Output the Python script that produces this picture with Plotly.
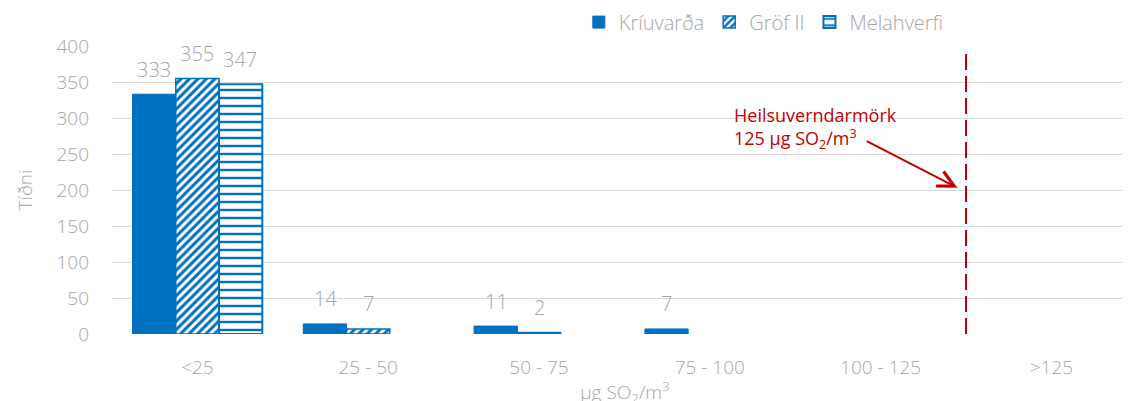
import plotly.graph_objects as go

categories = ["<25", "25 - 50", "50 - 75", "75 - 100", "100 - 125", ">125"]
kriuvarda = [333, 14, 11, 7, 0, 0]
grof = [355, 7, 2, 0, 0, 0]
melahverfi = [347, 0, 0, 0, 0, 0]
series_names = ["Kríuvarða", "Gröf II", "Melahverfi"]
y_ticks = [0, 50, 100, 150, 200, 250, 300, 350, 400]
limit_position = 4.5  # boundary between "100 - 125" and ">125"

BLUE = "#0070C0"
GRAY = "#A6A6A6"
RED = "#C00000"
FONT = "Open Sans"
FS = 19


def nz(vals):
    return [v if v else None for v in vals]


fig = go.Figure()
fig.add_trace(go.Bar(
    x=categories, y=nz(kriuvarda), name=series_names[0],
    marker=dict(color=BLUE, line=dict(color=BLUE, width=1)),
))
fig.add_trace(go.Bar(
    x=categories, y=nz(grof), name=series_names[1],
    marker=dict(color="white", line=dict(color=BLUE, width=1.5),
                pattern=dict(shape="/", fgcolor=BLUE, bgcolor="white",
                             size=6, solidity=0.5, fillmode="replace")),
))
fig.add_trace(go.Bar(
    x=categories, y=nz(melahverfi), name=series_names[2],
    marker=dict(color="white", line=dict(color=BLUE, width=2),
                pattern=dict(shape="-", fgcolor=BLUE, bgcolor="white",
                             size=8, solidity=0.3, fillmode="replace")),
))

# data labels
shifts = [-43, 0, 43]
for vals, xs in zip([kriuvarda, grof, melahverfi], shifts):
    for c, v in zip(categories, vals):
        if v == 0:
            continue
        fig.add_annotation(x=c, y=v, text=str(v), showarrow=False,
                           xshift=xs, yshift=25, yanchor="middle",
                           font=dict(family=FONT, size=FS + 1, color=GRAY, weight=300))

# health limit line
fig.add_shape(type="line", xref="x", yref="y", x0=limit_position, x1=limit_position,
              y0=0, y1=390, line=dict(color=RED, width=2, dash="16px,6px"))
fig.add_annotation(x=3.13, y=323, xref="x", yref="y", xanchor="left", yanchor="top",
                   align="left", showarrow=False,
                   text="Heilsuverndarmörk<br>125 µg SO<sub>2</sub>/m<sup>3</sup>",
                   font=dict(family=FONT, size=18, color=RED))
fig.add_annotation(x=4.45, y=203, ax=3.91, ay=269, xref="x", yref="y",
                   axref="x", ayref="y", text="", showarrow=True,
                   arrowhead=5, arrowsize=1.6, arrowwidth=2, arrowcolor=RED)

fig.update_layout(
    width=1130, height=401,
    margin=dict(l=104, r=0, t=38, b=75, autoexpand=False),
    plot_bgcolor="white", paper_bgcolor="white",
    barmode="group", bargap=0.24, bargroupgap=0,
    font=dict(family=FONT, size=FS, color=GRAY),
    legend=dict(orientation="h", x=0.455, xanchor="left", y=1.083, yanchor="middle",
                font=dict(family=FONT, size=20, color=GRAY, weight=300),
                bgcolor="rgba(0,0,0,0)", itemwidth=30, traceorder="normal"),
    showlegend=True,
)
fig.update_xaxes(range=[-0.5, 5.507], showgrid=False, showline=False, zeroline=False,
                 ticks="", ticklabelstandoff=20, automargin=False,
                 tickfont=dict(family=FONT, size=FS, color=GRAY, weight=300),
                 title=dict(text="µg SO<sub>2</sub>/m<sup>3</sup>", standoff=6,
                            font=dict(family=FONT, size=FS, color=GRAY, weight=300)))
fig.update_yaxes(range=[0, 400], tickvals=y_ticks, showgrid=True, gridcolor="#D9D9D9",
                 gridwidth=1, zeroline=False, showline=False, ticks="",
                 ticklabelstandoff=22, automargin=False,
                 tickfont=dict(family=FONT, size=FS, color=GRAY, weight=300),
                 title=dict(text="Tíðni", standoff=18,
                            font=dict(family=FONT, size=FS, color=GRAY, weight=300)))

fig.write_html("out.html")
